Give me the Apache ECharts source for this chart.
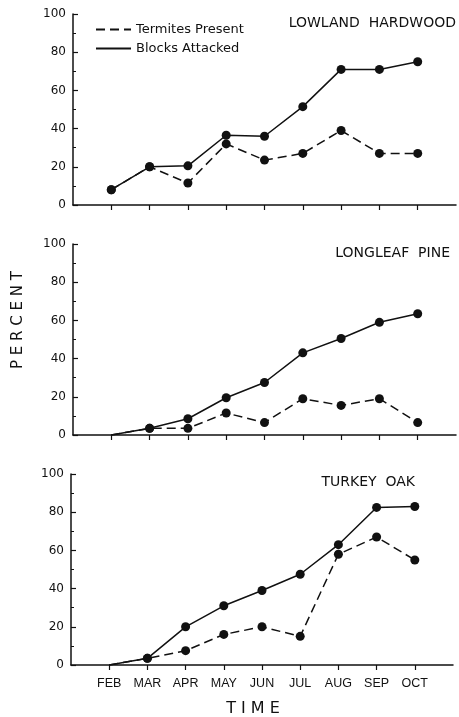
<!DOCTYPE html>
<html>
<head>
<meta charset="utf-8">
<script src="https://cdn.jsdelivr.net/npm/echarts@6/dist/echarts.min.js"></script>
<style>
html,body{margin:0;padding:0;background:#fff;}
#chart{width:459px;height:717px;}
</style>
</head>
<body>
<div id="chart"></div>
<script>
const months = ['FEB','MAR','APR','MAY','JUN','JUL','AUG','SEP','OCT'];
const yTicks = [0, 20, 40, 60, 80, 100];
const panelTitles = ['LOWLAND  HARDWOOD', 'LONGLEAF  PINE', 'TURKEY  OAK'];
const hardwoodBlocks   = [8, 20, 20.5, 36.5, 36, 51.5, 71, 71, 75];
const hardwoodTermites = [8, 20, 11.5, 32, 23.5, 27, 39, 27, 27];
const pineBlocks       = [0, 3.5, 8.5, 19.5, 27.5, 43, 50.5, 59, 63.5];
const pineTermites     = [0, 3.5, 3.5, 11.5, 6.5, 19, 15.5, 19, 6.5];
const oakBlocks        = [0, 3.5, 20, 31, 39, 47.5, 63, 82.5, 83];
const oakTermites      = [0, 3.5, 7.5, 16, 20, 15, 58, 67, 55];

const INK = '#111';
const FONT = 'DejaVu Sans';
const monthPos = months.map((m, i) => i + 1);
const toPairs = arr => arr.map((v, i) => [i + 1, v]);

const grids = [
  {left: 73, top: 14, width: 383, height: 191},
  {left: 73, top: 244, width: 383, height: 191},
  {left: 71, top: 474, width: 382, height: 191}
];

const xAxes = grids.map((g, k) => ({
  type: 'value', gridIndex: k, min: 0, max: 10, interval: 1,
  axisLine: {show: true, lineStyle: {color: INK, width: 1.5}},
  axisTick: {show: true, customValues: monthPos, length: 5, lineStyle: {color: INK, width: 1.2}},
  axisLabel: {
    show: k === 2, customValues: monthPos, margin: 12,
    formatter: v => months[v - 1] || '',
    color: INK, fontFamily: 'Liberation Sans', fontSize: 12.5
  },
  splitLine: {show: false}
}));

const yAxes = grids.map((g, k) => ({
  type: 'value', gridIndex: k, min: yTicks[0], max: yTicks[yTicks.length - 1], interval: 20,
  axisLine: {show: true, lineStyle: {color: INK, width: 1.5}},
  axisTick: {show: true, inside: true, length: 5, lineStyle: {color: INK, width: 1.2}},
  minorTick: {show: true, splitNumber: 2, length: 3, lineStyle: {color: INK, width: 1}},
  axisLabel: {color: INK, fontFamily: FONT, fontSize: 12, margin: 7},
  splitLine: {show: false}
}));

function mk(name, data, k, dashed) {
  return {
    name: name, type: 'line', xAxisIndex: k, yAxisIndex: k,
    data: toPairs(data),
    symbol: 'circle',
    symbolSize: v => (v[1] === 0 ? 0 : 9),
    itemStyle: {color: INK},
    lineStyle: {color: INK, width: 1.5, type: dashed ? [9, 5] : 'solid'},
    z: dashed ? 2 : 3,
    animation: false
  };
}

const series = [
  mk('Termites Present', hardwoodTermites, 0, true),
  mk('Blocks Attacked', hardwoodBlocks, 0, false),
  mk('Termites Present', pineTermites, 1, true),
  mk('Blocks Attacked', pineBlocks, 1, false),
  mk('Termites Present', oakTermites, 2, true),
  mk('Blocks Attacked', oakBlocks, 2, false)
];

const titlePos = [{right: 3, top: 16}, {right: 9, top: 246}, {right: 44, top: 475}];

const option = {
  backgroundColor: '#fff',
  animation: false,
  grid: grids,
  xAxis: xAxes,
  yAxis: yAxes,
  series: series,
  title: panelTitles.map((t, k) => Object.assign({
    text: t,
    textStyle: {color: INK, fontFamily: FONT, fontSize: 14, fontWeight: 'normal'},
    padding: 0
  }, titlePos[k])),
  legend: {
    orient: 'vertical', left: 90, top: 18, itemGap: 6,
    itemWidth: 35, itemHeight: 12,
    data: ['Termites Present', 'Blocks Attacked'],
    itemStyle: {opacity: 0},
    textStyle: {color: INK, fontFamily: FONT, fontSize: 13, padding: [0, 0, 0, 0]},
    selectedMode: false
  },
  graphic: [
    {type: 'text', x: 18, y: 320, rotation: Math.PI / 2,
     style: {text: 'P E R C E N T', fill: INK, font: '15px "DejaVu Sans"', textAlign: 'center', textVerticalAlign: 'middle'}},
    {type: 'text', x: 253, y: 709,
     style: {text: 'T I M E', fill: INK, font: '16px "DejaVu Sans"', textAlign: 'center', textVerticalAlign: 'middle'}}
  ]
};

const chart = echarts.init(document.getElementById('chart'), null, {renderer: 'canvas'});
chart.setOption(option);
</script>
</body>
</html>
